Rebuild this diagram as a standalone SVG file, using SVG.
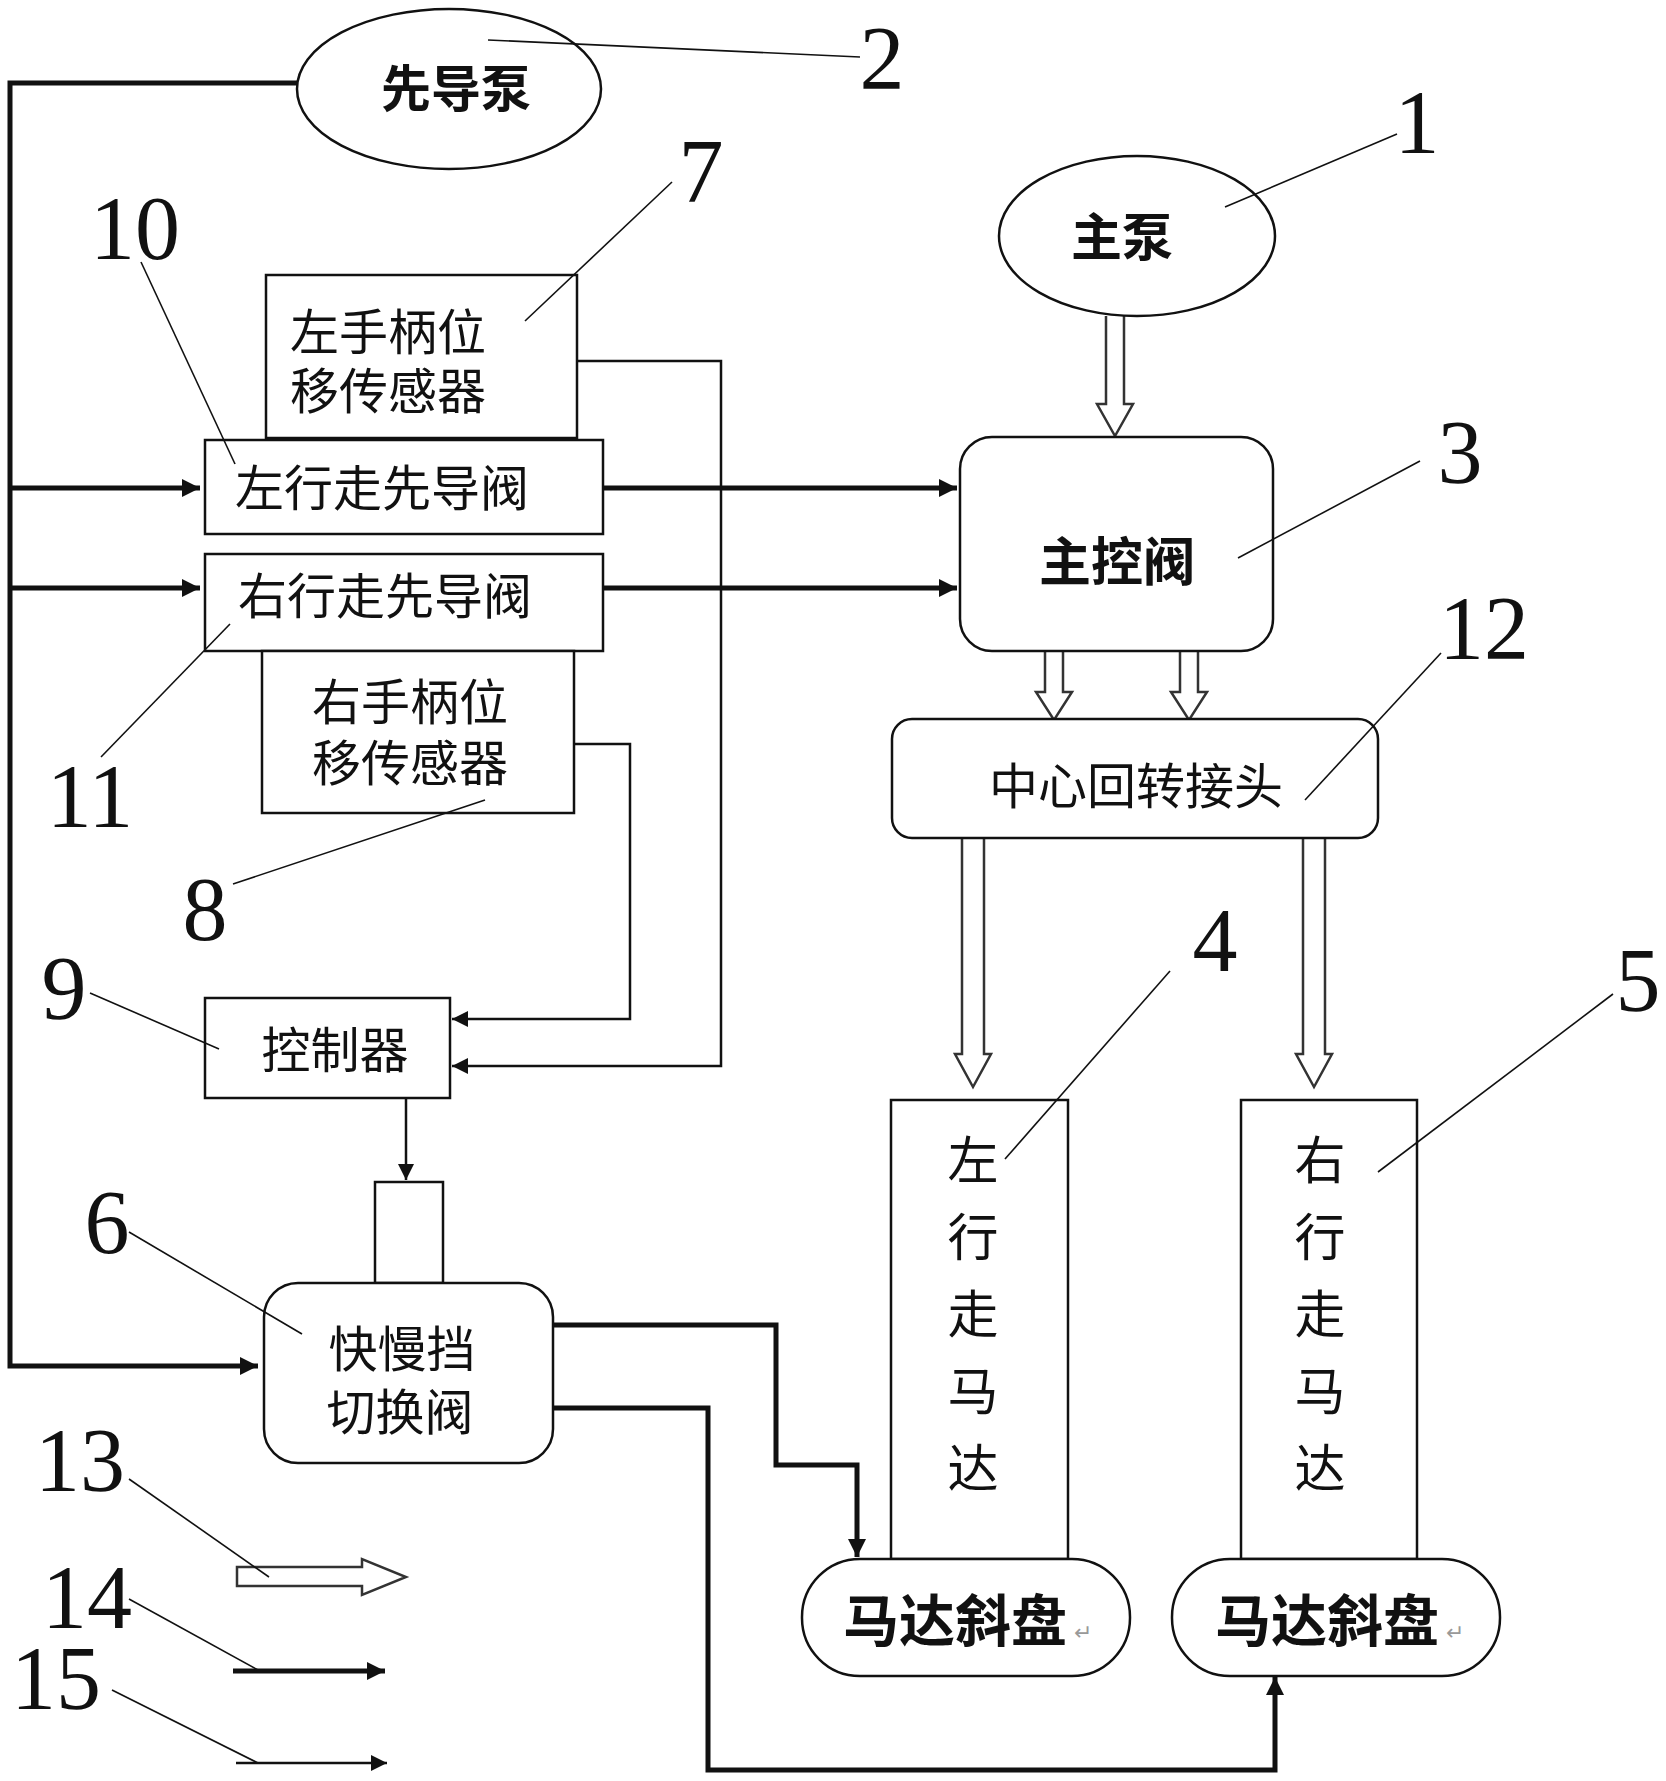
<svg xmlns="http://www.w3.org/2000/svg" width="1666" height="1781" viewBox="0 0 1666 1781">
<style>
.box{fill:#fff;stroke:#111;stroke-width:2.5}
.cn{font-family:"Noto Sans CJK SC","Noto Sans",sans-serif;fill:#111}
.b{font-weight:bold}
.num{font-family:"Liberation Serif",serif;font-size:90px;fill:#111;text-anchor:middle}
.thick{fill:none;stroke:#111;stroke-width:5}
.thin{fill:none;stroke:#111;stroke-width:2.5}
.lead{fill:none;stroke:#111;stroke-width:1.6}
.hollow{fill:#fff;stroke:#333;stroke-width:2.5;stroke-linejoin:miter}
</style>
<defs>
<marker id="ah" viewBox="0 0 10 10" refX="10" refY="5" markerUnits="userSpaceOnUse" markerWidth="22" markerHeight="18" orient="auto"><path d="M0,0 L10,5 L0,10 Z" fill="#111"/></marker>
<marker id="as" viewBox="0 0 10 10" refX="10" refY="5" markerUnits="userSpaceOnUse" markerWidth="18" markerHeight="16" orient="auto"><path d="M0,0 L10,5 L0,10 Z" fill="#111"/></marker>
</defs>
<rect width="1666" height="1781" fill="#fff"/>

<g id="connectors">
<path class="thick" d="M297,83 L10,83 L10,1366 L258,1366" marker-end="url(#ah)"/>
<path class="thick" d="M10,488 L200,488" marker-end="url(#ah)"/>
<path class="thick" d="M10,588 L200,588" marker-end="url(#ah)"/>
<path class="thick" d="M603,488 L957,488" marker-end="url(#ah)"/>
<path class="thick" d="M603,588 L957,588" marker-end="url(#ah)"/>
<path class="thin" d="M577,361 L721,361 L721,1066 L452,1066" marker-end="url(#as)"/>
<path class="thin" d="M574,744 L630,744 L630,1019 L452,1019" marker-end="url(#as)"/>
<path class="thin" d="M406,1098 L406,1180" marker-end="url(#as)"/>
<path class="thick" d="M553,1325 L776,1325 L776,1465 L857,1465 L857,1557" marker-end="url(#ah)"/>
<path class="thick" d="M553,1408 L708,1408 L708,1770 L1275,1770 L1275,1677" marker-end="url(#ah)"/>
<path class="hollow" d="M1106,316 L1106,404 L1097,404 L1115,436 L1133,404 L1124,404 L1124,316"/>
<path class="hollow" d="M1045,651 L1045,692 L1036,692 L1054,720 L1072,692 L1063,692 L1063,651"/>
<path class="hollow" d="M1180,651 L1180,692 L1171,692 L1189,720 L1207,692 L1198,692 L1198,651"/>
<path class="hollow" d="M962,838 L962,1054 L955,1054 L973,1087 L991,1054 L984,1054 L984,838"/>
<path class="hollow" d="M1303,838 L1303,1054 L1296,1054 L1314,1087 L1332,1054 L1325,1054 L1325,838"/>
</g>

<g id="n2">
<ellipse class="box" cx="449" cy="89" rx="152" ry="80"/>
<text class="cn b" x="456" y="107" font-size="50" text-anchor="middle">先导泵</text>
</g>
<g id="n1">
<ellipse class="box" cx="1137" cy="236" rx="138" ry="80"/>
<text class="cn b" x="1122" y="256" font-size="51" text-anchor="middle">主泵</text>
</g>
<g id="n7">
<rect class="box" x="266" y="275" width="311" height="163"/>
<text class="cn" font-size="49"><tspan x="290" y="350">左手柄位</tspan><tspan x="290" y="409">移传感器</tspan></text>
</g>
<g id="n10">
<rect class="box" x="205" y="440" width="398" height="94"/>
<text class="cn" x="235" y="506" font-size="49">左行走先导阀</text>
</g>
<g id="n11">
<rect class="box" x="205" y="554" width="398" height="97"/>
<text class="cn" x="238" y="614" font-size="49">右行走先导阀</text>
</g>
<g id="n8">
<rect class="box" x="262" y="651" width="312" height="162"/>
<text class="cn" font-size="49"><tspan x="312" y="720">右手柄位</tspan><tspan x="312" y="781">移传感器</tspan></text>
</g>
<g id="n9">
<rect class="box" x="205" y="998" width="245" height="100"/>
<text class="cn" x="335" y="1068" font-size="49" text-anchor="middle">控制器</text>
</g>
<g id="n6">
<rect class="box" x="375" y="1182" width="68" height="101"/>
<rect class="box" x="264" y="1283" width="289" height="180" rx="34"/>
<text class="cn" font-size="49" text-anchor="middle"><tspan x="402" y="1367">快慢挡</tspan><tspan x="400" y="1430">切换阀</tspan></text>
</g>
<g id="n3">
<rect class="box" x="960" y="437" width="313" height="214" rx="32"/>
<text class="cn b" x="1117" y="581" font-size="52" text-anchor="middle">主控阀</text>
</g>
<g id="n12">
<rect class="box" x="892" y="719" width="486" height="119" rx="20"/>
<text class="cn" x="1136" y="804" font-size="49" text-anchor="middle">中心回转接头</text>
</g>
<g id="n4">
<rect class="box" x="891" y="1100" width="177" height="459"/>
<text class="cn" font-size="51" text-anchor="middle"><tspan x="973" y="1179">左</tspan><tspan x="973" y="1256">行</tspan><tspan x="973" y="1333">走</tspan><tspan x="973" y="1410">马</tspan><tspan x="973" y="1487">达</tspan></text>
</g>
<g id="n5">
<rect class="box" x="1241" y="1100" width="176" height="459"/>
<text class="cn" font-size="51" text-anchor="middle"><tspan x="1320" y="1179">右</tspan><tspan x="1320" y="1256">行</tspan><tspan x="1320" y="1333">走</tspan><tspan x="1320" y="1410">马</tspan><tspan x="1320" y="1487">达</tspan></text>
</g>
<g id="n4s">
<rect class="box" x="802" y="1559" width="328" height="117" rx="58"/>
<text class="cn b" x="843" y="1641" font-size="56">马达斜盘</text>
<text class="cn" x="1074" y="1640" font-size="22" style="fill:#999">↵</text>
</g>
<g id="n5s">
<rect class="box" x="1172" y="1559" width="328" height="117" rx="58"/>
<text class="cn b" x="1215" y="1641" font-size="56">马达斜盘</text>
<text class="cn" x="1446" y="1640" font-size="22" style="fill:#999">↵</text>
</g>

<g id="legend">
<path class="hollow" d="M237,1567 L362,1567 L362,1559 L406,1577 L362,1595 L362,1586 L237,1586 Z"/>
<path class="thick" d="M233,1671 L385,1671" marker-end="url(#ah)"/>
<path class="thin" d="M236,1763 L387,1763" marker-end="url(#as)"/>
</g>

<g id="labels">
<path class="lead" d="M488,40 L860,57"/>
<text class="num" x="882" y="89">2</text>
<path class="lead" d="M1397,134 L1225,207"/>
<text class="num" x="1417" y="153">1</text>
<path class="lead" d="M672,182 L525,321"/>
<text class="num" x="701" y="202">7</text>
<path class="lead" d="M141,262 L235,464"/>
<text class="num" x="135" y="259">10</text>
<path class="lead" d="M1420,461 L1238,558"/>
<text class="num" x="1460" y="483">3</text>
<path class="lead" d="M1441,653 L1305,800"/>
<text class="num" x="1484" y="659">12</text>
<path class="lead" d="M101,757 L230,624"/>
<text class="num" x="90" y="827">11</text>
<path class="lead" d="M233,884 L485,800"/>
<text class="num" x="205" y="940">8</text>
<path class="lead" d="M1170,971 L1005,1159"/>
<text class="num" x="1215" y="971">4</text>
<path class="lead" d="M1613,994 L1378,1172"/>
<text class="num" x="1638" y="1011">5</text>
<path class="lead" d="M90,993 L219,1049"/>
<text class="num" x="64" y="1019">9</text>
<path class="lead" d="M129,1232 L302,1334"/>
<text class="num" x="107" y="1253">6</text>
<path class="lead" d="M129,1479 L269,1577"/>
<text class="num" x="80" y="1491">13</text>
<path class="lead" d="M129,1599 L258,1670"/>
<text class="num" x="87" y="1628">14</text>
<path class="lead" d="M112,1690 L258,1763"/>
<text class="num" x="56" y="1709">15</text>
</g>
</svg>
